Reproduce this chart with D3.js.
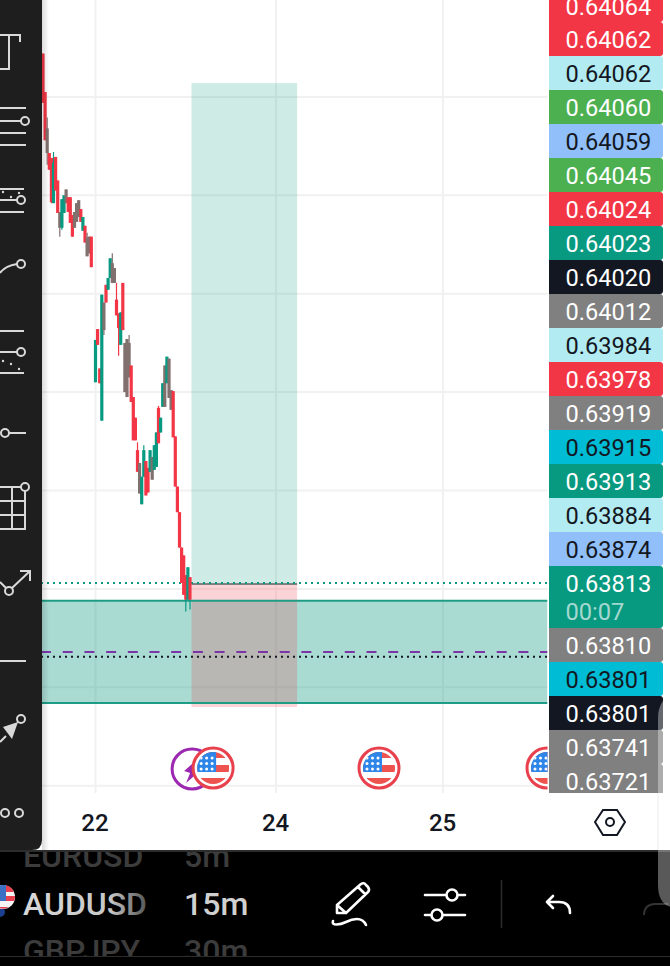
<!DOCTYPE html>
<html>
<head>
<meta charset="utf-8">
<script src="https://cdn.jsdelivr.net/npm/d3@7"></script>
<style>
  html, body { margin: 0; padding: 0; background: #fff; }
  svg { display: block; font-family: Roboto, sans-serif; }
</style>
</head>
<body>
<svg id="chart" width="670" height="966"></svg>
<script>
"use strict";

// prices are in 1e-5 points, so 64351 is 0.64351. null = no candle drawn
var opens = [64351,64312,64275,64250,64245,64199,64246,64222,64190,64174,64189,64213,64205,64205,64187,64190,64199,64202,64193,64171,64176,64164,64165,64165,null,64017,64071,64031,63978,64098,64116,64111,64123,64138,64133,64101,64087,64055,64118,64057,64061,64057,64034,64002,63981,63948,63935,63893,63921,63937,63930,63926,63941,63928,63931,63991,63966,63992,64034,64016,64041,64009,64008,63962,63911,63885,63849,63841,63821,63796,63819];
var closes = [64301,64263,64250,64233,64200,64240,64212,64189,64174,64203,64207,64199,64190,64179,64165,64174,64180,64185,64180,64185,64159,64145,64148,64134,null,64060,64055,64016,64106,64070,64098,64123,64143,64118,64118,64085,64072,64088,64070,64007,64002,64022,63997,63958,63958,63926,63904,63921,63948,63902,63905,63948,63918,63953,63966,63955,63981,64016,63992,64043,64001,63989,63961,63911,63885,63849,63813,63801,63796,63829,63796];
var highs = [64351,64312,64286,64250,64245,64251,64246,64222,64190,64203,64207,64213,64205,64205,64187,64190,64199,64202,64193,64185,64176,64169,64165,64165,null,64060,64071,64031,64106,64098,64116,64123,64143,64148,64133,64118,64087,64088,64118,64057,64061,64065,64034,64002,63981,63956,63935,63921,63953,63937,63930,63948,63941,63953,63966,63993,63981,64016,64034,64043,64041,64009,64008,63962,63911,63885,63849,63841,63821,63829,63819];
var lows = [64301,64263,64238,64233,64199,64199,64212,64189,64165,64172,64189,64199,64190,64179,64165,64174,64180,64185,64180,64171,64159,64145,64148,64134,null,64017,64055,64016,63978,64065,64098,64111,64123,64118,64118,64085,64044,64055,64070,64007,64002,64022,63997,63958,63958,63926,63904,63893,63921,63902,63905,63926,63918,63928,63931,63955,63966,63992,63992,64016,64001,63989,63961,63911,63885,63849,63813,63801,63784,63796,63786];
// candles so tight against a neighbour that the picture shows them as grey-brown
var blendedCandles = [2,8,11,15,16,17,21,22,29,33,34,39,40,41,46,52,58,60,61];

var gridPrices = [64307,64207,64107,64007,63907,63807,63707,63607];
var dayTicks = [25,111,190.5];
var dayLabels = ['22','24','25'];

var scaleLabels = ['0.64064','0.64062','0.64062','0.64060','0.64059','0.64045','0.64024','0.64023','0.64020','0.64012','0.63984','0.63978','0.63919','0.63915','0.63913','0.63884','0.63874','0.63813','0.63810','0.63801','0.63801','0.63741','0.63721'];
var scaleKinds = ['red','red','pale','green','blue','green','red','teal','black','grey','pale','red','grey','cyan','teal','pale','blue','teal','grey','cyan','black','grey','grey'];
var countdown = '00:07';

var currentPrice = 63813;
var stopLine = 63738;
var averageLine = 63743;
var zoneTop = 63795, zoneBottom = 63691;
var tradeTarget = 64321, tradeEntry = 63812, tradeStop = 63687;
var tradeStart = 70.7, tradeEnd = 121;
var calendarEvents = [81,160,240];
var purpleEvent = 71;

var watchSymbols = ['EURUSD','AUDUSD','GBPJPY'];
var watchFrames = ['5m','15m','30m'];

var svg = d3.select('#chart');
var defs = svg.append('defs');

var plotRight = 547.5, plotBottom = 793;

var x = d3.scaleLinear().domain([0,70]).range([43,190]);
var y = d3.scaleLinear().domain([63813,64813]).range([583,-401]);

var kindFill = d3.scaleOrdinal()
  .domain(['red','pale','green','blue','teal','black','grey','cyan'])
  .range(['#f23645','#b2ebf2','#4caf50','#90bff9','#089981','#131722','#808080','#00bcd4']);
var kindText = d3.scaleOrdinal()
  .domain(['red','pale','green','blue','teal','black','grey','cyan'])
  .range(['#fff','#131722','#fff','#131722','#fff','#fff','#fff','#131722']);

defs.append('clipPath').attr('id','plot-clip').append('rect')
  .attr('x',42).attr('y',0).attr('width',plotRight-42).attr('height',plotBottom);
defs.append('clipPath').attr('id','flag-clip').append('circle').attr('r',16);
defs.append('clipPath').attr('id','watch-clip').append('rect')
  .attr('x',0).attr('y',852).attr('width',670).attr('height',104);

var symbolFade = defs.append('linearGradient').attr('id','symbol-fade').attr('gradientUnits','userSpaceOnUse')
  .attr('x1',23).attr('x2',147).attr('y1',0).attr('y2',0);
symbolFade.append('stop').attr('offset','0').attr('stop-color','#d8d8d8');
symbolFade.append('stop').attr('offset','0.7').attr('stop-color','#c8c8c8');
symbolFade.append('stop').attr('offset','1').attr('stop-color','#555');

var shade = defs.append('linearGradient').attr('id','bar-shadow');
shade.append('stop').attr('offset','0').attr('stop-color','#000').attr('stop-opacity',0.14);
shade.append('stop').attr('offset','1').attr('stop-color','#000').attr('stop-opacity',0);

svg.append('rect').attr('width',670).attr('height',966).attr('fill','#fff');

// grid
var grid = svg.append('g').attr('stroke','#f1f1f1').attr('stroke-width',2);
grid.selectAll('.h').data(gridPrices).enter().append('line')
  .attr('x1',42).attr('x2',plotRight)
  .attr('y1',function(d){return y(d)}).attr('y2',function(d){return y(d)});
grid.selectAll('.v').data(dayTicks).enter().append('line')
  .attr('x1',function(d){return x(d)}).attr('x2',function(d){return x(d)})
  .attr('y1',0).attr('y2',plotBottom);

var plot = svg.append('g').attr('clip-path','url(#plot-clip)');

// long position tool and the zone
plot.append('rect')
  .attr('x',x(tradeStart)).attr('width',x(tradeEnd)-x(tradeStart))
  .attr('y',y(tradeTarget)).attr('height',y(tradeEntry)-y(tradeTarget))
  .attr('fill','#089981').attr('fill-opacity',0.2);
plot.append('rect')
  .attr('x',x(0)-2).attr('width',plotRight-x(0)+2)
  .attr('y',y(zoneTop)).attr('height',y(zoneBottom)-y(zoneTop))
  .attr('fill','#089981').attr('fill-opacity',0.35);
plot.append('rect')
  .attr('x',x(tradeStart)).attr('width',x(tradeEnd)-x(tradeStart))
  .attr('y',y(tradeEntry)).attr('height',y(tradeStop)-y(tradeEntry))
  .attr('fill','#f23645').attr('fill-opacity',0.22);
plot.append('line')
  .attr('x1',x(tradeStart)).attr('x2',x(tradeEnd))
  .attr('y1',y(tradeEntry)).attr('y2',y(tradeEntry))
  .attr('stroke','#808080').attr('stroke-width',2);
plot.selectAll('.zone-edge').data([zoneTop,zoneBottom]).enter().append('line')
  .attr('x1',x(0)-2).attr('x2',plotRight)
  .attr('y1',function(d){return y(d)}).attr('y2',function(d){return y(d)})
  .attr('stroke','#1f9c85').attr('stroke-width',2);

function priceLine(price, colour, dash){
  plot.append('line')
    .attr('x1',x(0)-2).attr('x2',plotRight)
    .attr('y1',y(price)).attr('y2',y(price))
    .attr('stroke',colour).attr('stroke-width',2).attr('stroke-dasharray',dash);
}
priceLine(currentPrice,'#089981','2,4');
priceLine(averageLine,'#7b35a8','10,11.7');
priceLine(stopLine,'#131722','2,4');

// candles
var candles = opens.map(function(o,i){
  return {i:i, open:o, close:closes[i], high:highs[i], low:lows[i], blended:blendedCandles.indexOf(i) >= 0};
}).filter(function(d){return d.open !== null});

function candleColour(d){
  if (d.blended) return '#80706e';
  return d.close > d.open ? '#089981' : '#f23645';
}

var candle = plot.append('g').selectAll('g').data(candles).enter().append('g');
candle.append('line')
  .attr('x1',function(d){return x(d.i)}).attr('x2',function(d){return x(d.i)})
  .attr('y1',function(d){return y(d.high)}).attr('y2',function(d){return y(d.low)})
  .attr('stroke',function(d){return d.i === 68 || d.i === 70 ? '#089981' : candleColour(d)})
  .attr('stroke-width',1.2);
candle.append('rect')
  .attr('x',function(d){return x(d.i)-1.6}).attr('width',3.2)
  .attr('y',function(d){return y(Math.max(d.open,d.close))})
  .attr('height',function(d){return Math.abs(y(d.open)-y(d.close))})
  .attr('fill',candleColour);

// calendar events
function flag(g){
  g.append('circle').attr('r',20).attr('fill','#fff').attr('stroke','#e8404c').attr('stroke-width',3);
  var f = g.append('g').attr('clip-path','url(#flag-clip)');
  f.append('rect').attr('x',-16).attr('y',-16).attr('width',32).attr('height',32).attr('fill','#fff');
  [[-16,6],[-3,7],[10,7]].forEach(function(s){
    f.append('rect').attr('x',-16).attr('y',s[0]).attr('width',32).attr('height',s[1]).attr('fill','#ef5350');
  });
  f.append('rect').attr('x',-16).attr('y',-16).attr('width',19).attr('height',20).attr('fill','#2e86e8');
  [-10,-4.5,1].forEach(function(sy){
    [-12,-6.5,-1].forEach(function(sx){
      f.append('circle').attr('cx',sx).attr('cy',sy).attr('r',1.5).attr('fill','#fff');
    });
  });
}
var purple = plot.append('g').attr('transform','translate('+x(purpleEvent)+',769)');
purple.append('circle').attr('r',20).attr('fill','#fff').attr('stroke','#9c27b0').attr('stroke-width',3);
purple.append('path').attr('d','M-8,2 L8,-12 L4,-2 L10,0 L-6,14 L-2,4 Z').attr('fill','#9c27b0');
calendarEvents.forEach(function(e){
  plot.append('g').attr('transform','translate('+x(e)+',768)').call(flag);
});

// time axis
var xAxis = d3.axisBottom(x).tickValues(dayTicks).tickSize(0)
  .tickFormat(function(d,i){return dayLabels[i]});
var xg = svg.append('g').attr('transform','translate(-1,813)').call(xAxis);
xg.select('.domain').remove();
xg.selectAll('text')
  .attr('y',0).attr('dy','0.75em')
  .style('font-family','Roboto, sans-serif').style('font-size','24px').style('font-weight',500)
  .attr('fill','#131722');

// price labels, stacked from the top of the window
var scaleG = svg.append('g');
var rowTop = -12;
scaleLabels.forEach(function(label,i){
  var isCurrent = label === '0.63813';
  var h = isCurrent ? 62 : 34;
  scaleG.append('rect')
    .attr('x',549).attr('y',rowTop).attr('width',114).attr('height',h).attr('rx',3)
    .attr('fill',kindFill(scaleKinds[i]));
  scaleG.append('rect')
    .attr('x',549).attr('y',rowTop).attr('width',20).attr('height',h)
    .attr('fill',kindFill(scaleKinds[i]));
  scaleG.append('text')
    .attr('x',565.5).attr('y',rowTop+18).attr('dy','0.36em')
    .attr('font-size',23.6).attr('fill',kindText(scaleKinds[i]))
    .text(label);
  if (isCurrent) {
    scaleG.append('text')
      .attr('x',565.5).attr('y',rowTop+46).attr('dy','0.36em')
      .attr('font-size',23.6).attr('fill','#fff').attr('fill-opacity',0.65)
      .text(countdown);
  }
  rowTop += h;
});
// white block under the stack hides the clipped last label
svg.append('rect').attr('x',549).attr('y',793).attr('width',121).attr('height',58).attr('fill','#fff');

// settings hexagon
svg.append('path').attr('d','M595,822 L603,810 L617,810 L625,822 L617,835 L603,835 Z')
  .attr('fill','none').attr('stroke','#131722').attr('stroke-width',2);
svg.append('circle').attr('cx',610).attr('cy',822).attr('r',4)
  .attr('fill','none').attr('stroke','#131722').attr('stroke-width',2);

// left toolbar
svg.append('rect').attr('x',42).attr('y',0).attr('width',7).attr('height',850).attr('fill','url(#bar-shadow)');
svg.append('path').attr('d','M0,0 H42 V840 Q42,850 32,850 H0 Z').attr('fill','#1e1e1e');

var tools = svg.append('g').attr('fill','none').attr('stroke','#d9d9d9').attr('stroke-width',2);
var toolPaths = [
  'M0,35 H20 V42 M9,35 V69 M0,69 H10',
  'M0,108 H26 M0,121 H21 M0,133 H26 M0,145 H26',
  'M0,189 H24 M0,200 H17 M0,212 H24',
  'M0,273 Q5,266 17,264',
  'M0,331 H24 M0,352 H17 M0,373 H24',
  'M9,433 H26',
  'M0,487 H25 V529 H0 M0,501 H25 M0,515 H25 M12,487 V529',
  'M0,582 L6,588 M12,588 L30,571 M20,571 H30 V581',
  'M0,661 H26',
  'M0,742 L6,736 M18,722 L18,723'
];
toolPaths.forEach(function(p){ tools.append('path').attr('d',p); });
[[25,121],[21,200],[21,264],[21,352],[5,433],[25,487],[9,591],[21,719],[5,813],[19,813]].forEach(function(c){
  tools.append('circle').attr('cx',c[0]).attr('cy',c[1]).attr('r',4).attr('fill','#1e1e1e');
});
svg.append('path').attr('d','M18,722 L12,739 L3,727 Z').attr('fill','#d9d9d9');
[[3,192],[11,197],[19,193],[3,361],[11,364],[19,369]].forEach(function(c){
  svg.append('circle').attr('cx',c[0]).attr('cy',c[1]).attr('r',1.2).attr('fill','#d9d9d9');
});

// bottom bar
svg.append('rect').attr('x',0).attr('y',850).attr('width',670).attr('height',116).attr('fill','#000');
svg.append('rect').attr('x',0).attr('y',850).attr('width',670).attr('height',2).attr('fill','#2c2c2c');
svg.append('rect').attr('x',0).attr('y',956).attr('width',670).attr('height',1).attr('fill','#2c2c2c');

var watch = svg.append('g').attr('clip-path','url(#watch-clip)')
  .style('font-weight',500).attr('font-size',32);
var rowBase = [867,915,962];
watchSymbols.forEach(function(s,i){
  var selected = i === 1;
  watch.append('text').attr('x',23).attr('y',rowBase[i])
    .attr('fill',selected ? 'url(#symbol-fade)' : '#3c3c3c').text(s);
  watch.append('text').attr('x',184).attr('y',rowBase[i])
    .attr('fill',selected ? '#d0d0d0' : '#3c3c3c').text(watchFrames[i]);
});

// small flag next to the symbol
var mini = svg.append('g').attr('transform','translate(3,897)');
mini.append('circle').attr('cx',-3).attr('cy',15).attr('r',5).attr('fill','#1c3f8f');
mini.append('circle').attr('r',12).attr('fill','#f5f5f5');
mini.append('path').attr('d','M0,-12 A12,12 0 0 1 11,-5 H0 Z M0,-1 H12 A12,12 0 0 1 11,4 H0 Z M-6,10 H6 A12,12 0 0 1 -6,10 Z').attr('fill','#e8404c');
mini.append('path').attr('d','M0,-12 A12,12 0 0 0 -12,0 V4 H3 V-12 Z').attr('fill','#3b6fc4');

var icons = svg.append('g').attr('fill','none').attr('stroke','#fff').attr('stroke-width',2.6)
  .attr('stroke-linecap','round').attr('stroke-linejoin','round');
icons.append('path').attr('d','M337,905 L361,884 Q364,882 366,885 L368,887 Q370,890 368,892 L346,913 L337,913 Z M337,905 L346,913 M358,887 L365,894');
icons.append('path').attr('d','M333,921 C331,926 340,925 346,922 C352,919 362,916 366,925');
icons.append('path').attr('d','M425,895 H446 M458,895 H465 M425,915 H431 M443,915 H465');
icons.append('circle').attr('cx',452).attr('cy',895).attr('r',5.5);
icons.append('circle').attr('cx',437).attr('cy',915).attr('r',5.5);
icons.append('path').attr('d','M547,902 L553,896 M547,902 L553,908 M547,902 H559 Q570,902 570,913');
svg.append('line').attr('x1',501.5).attr('x2',501.5).attr('y1',880).attr('y2',928).attr('stroke','#2c2c2c').attr('stroke-width',1.5);
svg.append('path').attr('d','M644,915 Q644,905 654,904 H668').attr('fill','none').attr('stroke','#333').attr('stroke-width',2);

// translucent edge panel of the phone
svg.append('path').attr('d','M670,695 H678 V908 H678 Q658,908 658,885 V718 Q658,702 670,695 Z')
  .attr('fill','#fff').attr('fill-opacity',0.35);
svg.append('line').attr('x1',658).attr('x2',658).attr('y1',793).attr('y2',850).attr('stroke','#000').attr('stroke-opacity',0.08).attr('stroke-width',1);
</script>
</body>
</html>
